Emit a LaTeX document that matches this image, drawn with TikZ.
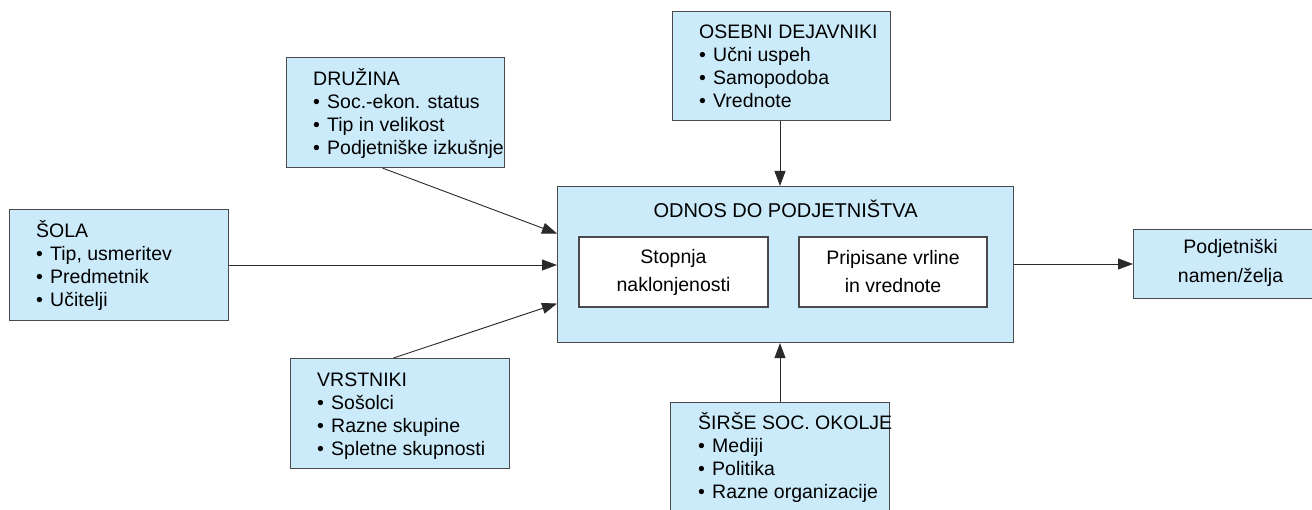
\documentclass[tikz,border=0pt]{standalone}
\usepackage{fontspec}
\setmainfont{Liberation Sans}
\usetikzlibrary{arrows.meta,calc}
\definecolor{boxfill}{HTML}{CCEBFA}
\definecolor{boxline}{HTML}{4A4A4A}
\definecolor{arrline}{HTML}{2A2A2A}
\tikzset{
  bluebox/.style={draw=boxline, fill=boxfill, line width=1.1pt, rectangle, inner sep=0pt, anchor=north west},
  whitebox/.style={draw=boxline, fill=white, line width=1.1pt, rectangle, inner sep=0pt, align=center, font=\fontsize{19.5}{28}\selectfont},
  listtext/.style={anchor=base west, inner sep=0pt, font=\fontsize{19.5}{23}\selectfont},
  centertext/.style={inner sep=0pt, align=center, font=\fontsize{19.5}{29}\selectfont},
  conn/.style={draw=arrline, line width=0.9pt, -{Triangle[length=15pt,width=11pt]}},
}
\newcommand{\itm}[1]{\makebox[14pt][l]{\textbullet}#1}
\newcommand{\lst}[1]{\begin{tabular}[t]{@{}l@{}}#1\end{tabular}}
\begin{document}
\begin{tikzpicture}[x=1pt,y=-1pt]
\clip (0,0) rectangle (1312,510);
\fill[white] (0,0) rectangle (1312,510);

% main box
\node[bluebox, minimum width=456pt, minimum height=156pt] (main) at (557,186) {};
\node[anchor=base, inner sep=0pt, font=\fontsize{20}{23}\selectfont] (odnos) at ([yshift=-32pt]main.north) {ODNOS DO PODJETNIŠTVA};
\node[whitebox, minimum width=189pt, minimum height=70pt] (stop) at (673.5,272) {Stopnja\\naklonjenosti};
\node[whitebox, minimum width=188pt, minimum height=70pt] (prip) at (893,272) {Pripisane vrline\\in vrednote};

% outer boxes
\node[bluebox, minimum width=219pt, minimum height=111pt] (sola) at (9,209) {};
\node[listtext] (solat) at ([xshift=27pt,yshift=-29pt]sola.north west)
  {\lst{ŠOLA\\ \itm{Tip, usmeritev}\\ \itm{Predmetnik}\\ \itm{Učitelji}}};

\node[bluebox, minimum width=218pt, minimum height=110pt] (druz) at (286,57) {};
\node[listtext] (druzt) at ([xshift=27pt,yshift=-29pt]druz.north west)
  {\lst{DRUŽINA\\ \itm{Soc.-ekon. status}\\ \itm{Tip in velikost}\\ \itm{Podjetniške izkušnje}}};

\node[bluebox, minimum width=219pt, minimum height=110pt] (vrst) at (290,358) {};
\node[listtext] (vrstt) at ([xshift=27pt,yshift=-29pt]vrst.north west)
  {\lst{VRSTNIKI\\ \itm{Sošolci}\\ \itm{Razne skupine}\\ \itm{Spletne skupnosti}}};

\node[bluebox, minimum width=218pt, minimum height=109pt] (oseb) at (672,11) {};
\node[listtext] (osebt) at ([xshift=27pt,yshift=-28pt]oseb.north west)
  {\lst{OSEBNI DEJAVNIKI\\ \itm{Učni uspeh}\\ \itm{Samopodoba}\\ \itm{Vrednote}}};

\node[bluebox, minimum width=219pt, minimum height=120pt] (sirse) at (670,402) {};
\node[listtext] (sirset) at ([xshift=28pt,yshift=-28pt]sirse.north west)
  {\lst{ŠIRŠE SOC. OKOLJE\\ \itm{Mediji}\\ \itm{Politika}\\ \itm{Razne organizacije}}};

\node[bluebox, minimum width=194pt, minimum height=69pt] (namen) at (1133,229) {};
\node[centertext] (namt) at ([yshift=1pt]namen.center) {Podjetniški\\namen/želja};

% connectors
\draw[conn] (sola.east |- 0,265) coordinate (sa) -- (main.west |- sa);
\draw[conn] ([xshift=-13pt]druz.south) -- ([yshift=31pt]main.west);
\draw[conn] ([xshift=-6.5pt]vrst.north) -- ([yshift=-39pt]main.west);
\draw[conn] (oseb.south -| 780,0) coordinate (oa) -- (main.north -| oa);
\draw[conn] (sirse.north -| 780,0) coordinate (ia) -- (main.south -| ia);
\draw[conn] (main.east |- 0,264) coordinate (ma) -- (namen.west |- ma);
\end{tikzpicture}
\end{document}
